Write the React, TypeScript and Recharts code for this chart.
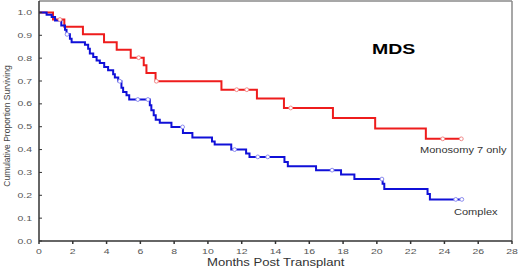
import { ComposedChart, Line, XAxis, YAxis, ReferenceLine } from 'recharts';

// Monosomy 7 only (red): step times in months and survival after each step
const monoTimes = [0, 0.83, 1.5, 2.6, 3.85, 4.6, 5.43, 6.2, 6.36, 6.9, 10.8, 12.9, 14.5, 17.4, 19.9, 22.9, 25.0];
const monoSurv = [1.0, 0.969, 0.937, 0.904, 0.87, 0.837, 0.802, 0.769, 0.735, 0.699, 0.662, 0.623, 0.582, 0.538, 0.492, 0.447, 0.447];
const monoCensored = [1.24, 5.9, 6.95, 11.7, 12.3, 14.9, 23.9, 25.0];

// Complex (blue)
const complexTimes = [
  0, 0.45, 0.75, 0.95, 1.32, 1.54, 1.63, 1.83, 1.93, 2.72, 2.91, 3.01, 3.21, 3.41, 3.6, 3.86, 4.09, 4.39, 4.49,
  4.69, 4.88, 4.98, 5.18, 5.34, 6.56, 6.65, 6.79, 6.91, 7.15, 7.84, 8.52, 9.08, 10.24, 10.4, 11.38, 12.26, 12.46,
  14.53, 14.73, 16.4, 17.88, 18.67, 20.34, 20.44, 23.0, 23.14, 25.03,
];
const complexSurv = [
  1.0, 0.99, 0.98, 0.965, 0.943, 0.924, 0.904, 0.885, 0.869, 0.859, 0.841, 0.82, 0.805, 0.79, 0.779, 0.761, 0.747,
  0.729, 0.715, 0.699, 0.671, 0.652, 0.638, 0.619, 0.594, 0.572, 0.55, 0.531, 0.517, 0.499, 0.473, 0.453, 0.435,
  0.422, 0.4, 0.383, 0.368, 0.346, 0.327, 0.31, 0.291, 0.271, 0.25, 0.227, 0.206, 0.182, 0.182,
];
const complexCensored = [1.66, 4.78, 5.85, 6.45, 8.5, 11.58, 12.95, 13.54, 17.35, 20.3, 24.67, 25.03];

const monthTicks = [0, 2, 4, 6, 8, 10, 12, 14, 16, 18, 20, 22, 24, 26, 28];
const survivalTicks = [0, 0.1, 0.2, 0.3, 0.4, 0.5, 0.6, 0.7, 0.8, 0.9, 1.0];

type Row = { t: number; s: number; censored: boolean };

function buildCurve(times: number[], surv: number[], censored: number[]): Row[] {
  const rows: Row[] = times.map((t, i) => ({ t, s: surv[i], censored: false }));
  censored.forEach(c => {
    let s = surv[0];
    times.forEach((tt, i) => {
      if (tt <= c) s = surv[i];
    });
    rows.push({ t: c, s, censored: true });
  });
  return rows.sort((a, b) => a.t - b.t || Number(a.censored) - Number(b.censored));
}

const monoData = buildCurve(monoTimes, monoSurv, monoCensored);
const complexData = buildCurve(complexTimes, complexSurv, complexCensored);

const FONT = '"Liberation Sans", Arial, sans-serif';

const censorDot = (stroke: string) => (props: any) => {
  const { cx, cy, payload, index } = props;
  if (!payload || !payload.censored) return <g key={`c${index}`} />;
  return <circle key={`c${index}`} cx={cx} cy={cy} r={1.9} fill="#fff" stroke={stroke} strokeWidth={1} />;
};

const XTick = (props: any) => {
  const { x, y, payload } = props;
  return (
    <text
      transform={`translate(${x},${y + 7.5}) scale(1.5,1)`}
      textAnchor="middle"
      fontSize={7}
      fontFamily={FONT}
      fill="#555"
    >
      {payload.value}
    </text>
  );
};

const YTick = (props: any) => {
  const { y, payload } = props;
  return (
    <g>
      <line x1={39} x2={42} y1={y} y2={y} stroke="#333" strokeWidth={1} />
      <text
        transform={`translate(32,${y + 2.5}) scale(1.5,1)`}
        textAnchor="end"
        fontSize={7}
        fontFamily={FONT}
        fill="#555"
      >
        {payload.value.toFixed(1)}
      </text>
    </g>
  );
};

export default function App() {
  return (
    <div style={{ position: 'absolute', left: 0, top: 0, width: 520, height: 268, background: '#fff' }}>
      <ComposedChart width={520} height={268} margin={{ top: 1, right: 8, left: 0, bottom: 0 }}>
        <XAxis
          type="number"
          dataKey="t"
          domain={[0, 28]}
          ticks={monthTicks}
          interval={0}
          height={27}
          tickSize={3}
          tick={<XTick />}
          stroke="#333"
          strokeWidth={1.5}
          allowDuplicatedCategory={false}
        />
        <YAxis
          type="number"
          dataKey="s"
          domain={[0, 1.05]}
          ticks={survivalTicks}
          interval={0}
          width={39}
          tickLine={false}
          tick={<YTick />}
          stroke="#333"
          strokeWidth={1.5}
        />
        <ReferenceLine y={1.05} stroke="#8a8a8a" strokeWidth={1.5} />
        <ReferenceLine x={28} stroke="#8a8a8a" strokeWidth={1.5} />
        <Line
          data={monoData}
          dataKey="s"
          type="stepAfter"
          stroke="#ee1c1c"
          strokeWidth={2}
          dot={censorDot('#f28a8a')}
          activeDot={false}
          isAnimationActive={false}
        />
        <Line
          data={complexData}
          dataKey="s"
          type="stepAfter"
          stroke="#1010d8"
          strokeWidth={2}
          dot={censorDot('#8c8cf0')}
          activeDot={false}
          isAnimationActive={false}
        />
      </ComposedChart>
      <svg
        width={520}
        height={268}
        style={{ position: 'absolute', left: 0, top: 0, pointerEvents: 'none' }}
        fontFamily={FONT}
      >
        <text transform="translate(372,54) scale(1.3,1)" fontSize={15} fontWeight="bold" fill="#000">
          MDS
        </text>
        <text transform="translate(420,152.5) scale(1.3,1)" fontSize={8.5} fill="#333">
          Monosomy 7 only
        </text>
        <text transform="translate(454,214.5) scale(1.3,1)" fontSize={8.5} fill="#333">
          Complex
        </text>
        <text transform="translate(207,266) scale(1.19,1)" fontSize={11} fill="#333">
          Months Post Transplant
        </text>
        <text transform="translate(9.5,126) rotate(-90)" textAnchor="middle" fontSize={8.5} fill="#444">
          Cumulative Proportion Surviving
        </text>
      </svg>
    </div>
  );
}
